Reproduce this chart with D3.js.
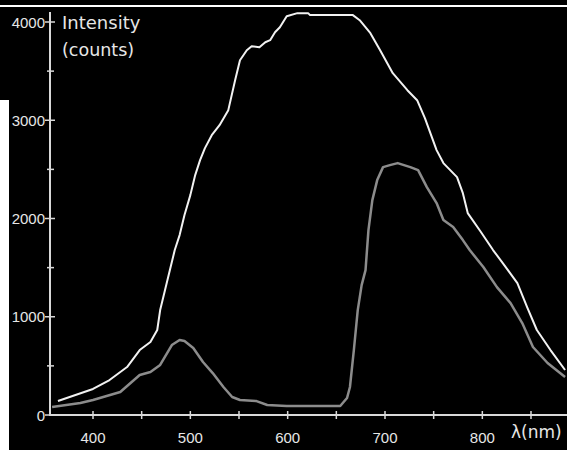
<!DOCTYPE html>
<html>
<head>
<meta charset="utf-8">
<script src="https://cdn.jsdelivr.net/npm/d3@7"></script>
<style>
  html, body { margin: 0; padding: 0; background: #fff; }
  svg { display: block; }
  text { font-family: "Liberation Sans", Arial, sans-serif; fill: #e6e6e6; }
  text.title { font-family: "DejaVu Sans", sans-serif; }
</style>
</head>
<body>
<div id="container"></div>
<script>
const width = 567;
const height = 450;

// tick labels
const xTicks = [400, 500, 600, 700, 800];
const xMinorTicks = [450, 550, 650, 750, 850];
const yTicks = [0, 1000, 2000, 3000, 4000];
const yMinorTicks = [500, 1500, 2500, 3500];

// upper (white) spectrum
const upperNm = [364, 376, 400, 417, 435, 448, 459, 466, 469, 474, 479, 484, 489, 494, 500, 505, 510, 515, 522, 530,
  539, 546, 551, 558, 563, 571, 577, 582, 587, 592, 599, 610, 621, 623, 667, 674, 685, 695, 708, 723,
  733, 741, 753, 760, 767, 774, 780, 785, 798, 811, 821, 836, 846, 856, 870, 885];
const upperCounts = [142, 183, 265, 356, 488, 661, 743, 865, 1068, 1272, 1475, 1679, 1831, 2035, 2238, 2442, 2594, 2716, 2848, 2950,
  3103, 3408, 3611, 3713, 3754, 3744, 3794, 3815, 3896, 3947, 4059, 4090, 4090, 4070, 4070, 4018, 3886, 3713, 3479, 3306,
  3204, 3021, 2696, 2564, 2492, 2421, 2258, 2055, 1870, 1679, 1546, 1343, 1099, 865, 661, 458];

// lower (grey) spectrum
const lowerNm = [358, 387, 400, 428, 448, 459, 469, 481, 489, 494, 503, 513, 523, 534, 543, 551, 568, 579, 599, 654,
  661, 664, 668, 672, 676, 680, 683, 687, 692, 698, 705, 713, 726, 734, 743, 753, 760, 770, 780, 787,
  801, 815, 829, 841, 852, 867, 885];
const lowerCounts = [81, 122, 153, 234, 407, 437, 509, 712, 763, 753, 682, 539, 427, 285, 183, 153, 142, 102, 92, 92,
  173, 285, 661, 1068, 1322, 1475, 1882, 2187, 2391, 2523, 2543, 2564, 2523, 2492, 2319, 2157, 1984, 1913, 1780, 1679,
  1506, 1302, 1139, 936, 692, 529, 387];

const svg = d3.select("div#container")
    .append("svg")
    .attr("width", width)
    .attr("height", height);

svg.append("rect")
    .attr("width", width)
    .attr("height", height)
    .attr("fill", "#000");

// thin white rule near the top and the white strip on the left
svg.append("rect")
    .attr("x", 0).attr("y", 5)
    .attr("width", width).attr("height", 2)
    .attr("fill", "#fff");
svg.append("rect")
    .attr("x", 0).attr("y", 100)
    .attr("width", 9).attr("height", height - 100)
    .attr("fill", "#fff");

const xScale = d3.scaleLinear().domain([400, 850]).range([93, 531]);
const yScale = d3.scaleLinear().domain([0, 4000]).range([415, 22]);

const axisColor = "#d9d9d9";

// axis lines
svg.append("line")
    .attr("x1", 50).attr("x2", 50)
    .attr("y1", 12).attr("y2", yScale(0))
    .attr("stroke", axisColor).attr("stroke-width", 2);
svg.append("line")
    .attr("x1", 49).attr("x2", width)
    .attr("y1", yScale(0)).attr("y2", yScale(0))
    .attr("stroke", axisColor).attr("stroke-width", 2);

// y ticks
svg.selectAll(".ytick")
    .data(yTicks)
    .enter()
    .append("line")
    .attr("x1", 45).attr("x2", 55)
    .attr("y1", d => yScale(d)).attr("y2", d => yScale(d))
    .attr("stroke", axisColor).attr("stroke-width", 1.5);
svg.selectAll(".ymtick")
    .data(yMinorTicks)
    .enter()
    .append("line")
    .attr("x1", 47).attr("x2", 54)
    .attr("y1", d => yScale(d)).attr("y2", d => yScale(d))
    .attr("stroke", axisColor).attr("stroke-width", 1.5);
svg.selectAll(".ylabel")
    .data(yTicks)
    .enter()
    .append("text")
    .attr("x", 45)
    .attr("y", d => yScale(d) + 5.5)
    .attr("text-anchor", "end")
    .style("font-size", "15px")
    .text(d => d);

// x ticks
svg.selectAll(".xtick")
    .data(xTicks.concat(xMinorTicks))
    .enter()
    .append("line")
    .attr("x1", d => xScale(d)).attr("x2", d => xScale(d))
    .attr("y1", 411).attr("y2", 419)
    .attr("stroke", axisColor).attr("stroke-width", 1.5);
svg.selectAll(".xlabel")
    .data(xTicks)
    .enter()
    .append("text")
    .attr("x", d => xScale(d))
    .attr("y", 443)
    .attr("text-anchor", "middle")
    .style("font-size", "15px")
    .text(d => d);

// axis titles
svg.append("text")
    .attr("class", "title")
    .attr("x", 62).attr("y", 29)
    .style("font-size", "18px")
    .text("Intensity");
svg.append("text")
    .attr("class", "title")
    .attr("x", 62).attr("y", 56)
    .style("font-size", "17.5px")
    .text("(counts)");
svg.append("text")
    .attr("class", "title")
    .attr("x", 511).attr("y", 438)
    .style("font-size", "17px")
    .text("λ(nm)");

const line = d3.line()
    .x(d => xScale(d[0]))
    .y(d => yScale(d[1]));

svg.append("path")
    .datum(lowerNm.map((v, i) => [v, lowerCounts[i]]))
    .attr("d", line)
    .attr("fill", "none")
    .attr("stroke", "#8c8c8c")
    .attr("stroke-width", 2.5)
    .attr("stroke-linejoin", "round");

svg.append("path")
    .datum(upperNm.map((v, i) => [v, upperCounts[i]]))
    .attr("d", line)
    .attr("fill", "none")
    .attr("stroke", "#f2f2f2")
    .attr("stroke-width", 2)
    .attr("stroke-linejoin", "round");
</script>
</body>
</html>
